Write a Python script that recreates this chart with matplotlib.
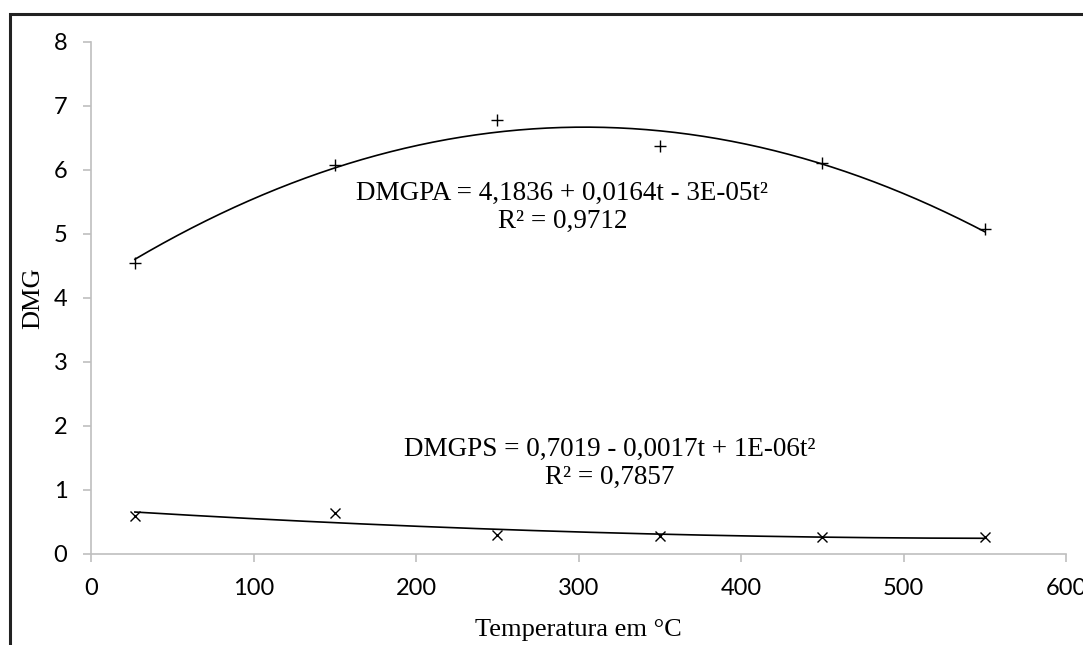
import numpy as np
import matplotlib
matplotlib.use("Agg")
import matplotlib.pyplot as plt
from matplotlib.patches import Rectangle

temps = [27, 150, 250, 350, 450, 550]
dmgpa = [4.55, 6.08, 6.78, 6.37, 6.11, 5.08]
dmgps = [0.60, 0.64, 0.30, 0.28, 0.27, 0.26]
eq_pa = "DMGPA = 4,1836 + 0,0164t - 3E-05t²"
r2_pa = "R² = 0,9712"
eq_ps = "DMGPS = 0,7019 - 0,0017t + 1E-06t²"
r2_ps = "R² = 0,7857"
xticks = [0, 100, 200, 300, 400, 500, 600]
yticks = [0, 1, 2, 3, 4, 5, 6, 7, 8]

W, H = 1083, 645
fig = plt.figure(figsize=(W / 100, H / 100), dpi=100)
ax = fig.add_axes([91 / W, 1 - 554 / H, (1066 - 91) / W, (554 - 42) / H])

grey = "#bfbfbf"
serif = "Liberation Serif"

ax.plot(temps, dmgpa, linestyle="none", marker="+", color="black", markersize=8, mew=1.0)
ax.plot(temps, dmgps, linestyle="none", marker="x", color="black", markersize=7, mew=1.0)

tt = np.linspace(min(temps), max(temps), 300)
ca = np.polyfit(temps, dmgpa, 2)
cs = np.polyfit(temps, dmgps, 2)
ax.plot(tt, np.polyval(ca, tt), color="black", lw=1.2)
ax.plot(tt, np.polyval(cs, tt), color="black", lw=1.2)

ax.set_xlim(0, 600)
ax.set_ylim(0, 8)
ax.set_xticks(xticks)
ax.set_yticks(yticks)
for s in ["top", "right"]:
    ax.spines[s].set_visible(False)
for s in ["left", "bottom"]:
    ax.spines[s].set_color(grey)
    ax.spines[s].set_linewidth(1.2)
ax.tick_params(axis="both", direction="out", length=6, width=1.2, color=grey,
               labelsize=17, pad=11)
for lab in ax.get_xticklabels() + ax.get_yticklabels():
    lab.set_family("Lato")

fs = 19.5
ax.text(290, 5.63, eq_pa, ha="center", va="center", family=serif, fontsize=fs)
ax.text(290, 5.19, r2_pa, ha="center", va="center", family=serif, fontsize=fs)
ax.text(319, 1.63, eq_ps, ha="center", va="center", family=serif, fontsize=fs)
ax.text(319, 1.20, r2_ps, ha="center", va="center", family=serif, fontsize=fs)

fig.text(33 / W, 1 - 298 / H, "DMG", rotation=90, ha="center", va="center",
         family=serif, fontsize=19)
fig.text(578 / W, 1 - 630 / H, "Temperatura em °C", ha="center", va="center",
         family=serif, fontsize=19)

fig.add_artist(Rectangle((10 / W, -0.2), 1.2, 1.2 - 14 / H,
                         transform=fig.transFigure, fill=False,
                         edgecolor="#222222", lw=2.2, clip_on=False))

fig.savefig("out.png", dpi=100)
